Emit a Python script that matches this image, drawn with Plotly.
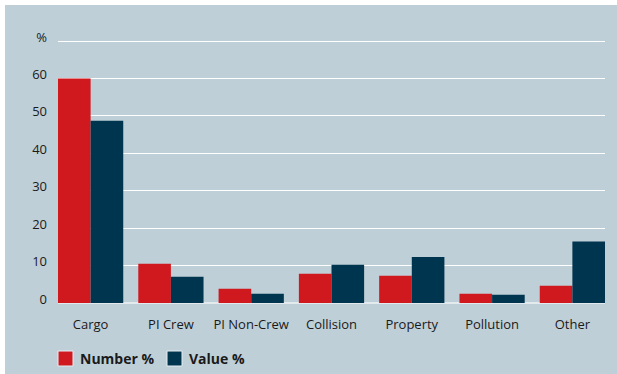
import plotly.graph_objects as go

categories = ["Cargo", "PI Crew", "PI Non-Crew", "Collision", "Property", "Pollution", "Other"]
number_pct = [60.0, 10.5, 3.8, 7.8, 7.3, 2.5, 4.6]
value_pct = [48.7, 7.0, 2.5, 10.2, 12.3, 2.2, 16.4]
y_tickvals = [0, 10, 20, 30, 40, 50, 60, 70]
y_ticktext = ["0", "10", "20", "30", "40", "50", "60", "%"]
legend_labels = ["Number %", "Value %"]

RED = "#d0181f"
NAVY = "#00354f"
BG = "#bfcfd8"
FONT = "Open Sans"

W, H = 617, 374
L, R, T, B = 58, 12, 40, 71
PW = W - L - R
PH = H - T - B

def px_x(p):
    return (p - L) / PW

def px_y(p):
    return (H - B - p) / PH

fig = go.Figure()
fig.add_trace(go.Bar(x=categories, y=number_pct, name=legend_labels[0],
                     marker=dict(color=RED, line=dict(width=0))))
fig.add_trace(go.Bar(x=categories, y=value_pct, name=legend_labels[1],
                     marker=dict(color=NAVY, line=dict(width=0))))

shapes = [
    # white strips (left and top border)
    dict(type="rect", xref="paper", yref="paper", x0=px_x(-5), x1=px_x(5),
         y0=px_y(H + 5), y1=px_y(-5), fillcolor="white", line=dict(width=0), layer="above"),
    dict(type="rect", xref="paper", yref="paper", x0=px_x(-5), x1=px_x(W + 5),
         y0=px_y(5), y1=px_y(-5), fillcolor="white", line=dict(width=0), layer="above"),
]
annotations = []
# manual legend
leg_items = [(58, legend_labels[0], RED), (167, legend_labels[1], NAVY)]
for x0, label, col in leg_items:
    shapes.append(dict(type="rect", xref="paper", yref="paper",
                       x0=px_x(x0), x1=px_x(x0 + 15), y0=px_y(366), y1=px_y(351),
                       fillcolor=col, line=dict(color="#e6edf1", width=1)))
    annotations.append(dict(xref="paper", yref="paper", x=px_x(x0 + 20), y=px_y(358.5),
                            xanchor="left", yanchor="middle", text=label, showarrow=False,
                            font=dict(family=FONT, size=14, color="#1a1a1a", weight="bold")))

fig.update_layout(
    width=W, height=H,
    margin=dict(l=L, r=R, t=T, b=B),
    paper_bgcolor=BG, plot_bgcolor="rgba(0,0,0,0)",
    barmode="group", bargap=0.1875, bargroupgap=0,
    showlegend=False,
    shapes=shapes, annotations=annotations,
    font=dict(family=FONT, size=12, color="#1a1a1a"),
)
fig.update_xaxes(range=[-0.40625, 6.40625], showgrid=False, showline=False,
                 zeroline=False, ticks="", tickfont=dict(size=13), ticklabelstandoff=12)
fig.update_yaxes(range=[0, 70.27], tickvals=y_tickvals, ticktext=y_ticktext,
                 showgrid=True, gridcolor="white", gridwidth=1,
                 zeroline=True, zerolinecolor="#e3eaee", zerolinewidth=2,
                 showline=False, ticks="", tickfont=dict(size=13),
                 ticklabelstandoff=10, ticklabelshift=-4)

fig.write_html("out.html", config={"displayModeBar": False},
               post_script="document.body.style.margin='0';document.body.style.padding='0';")
